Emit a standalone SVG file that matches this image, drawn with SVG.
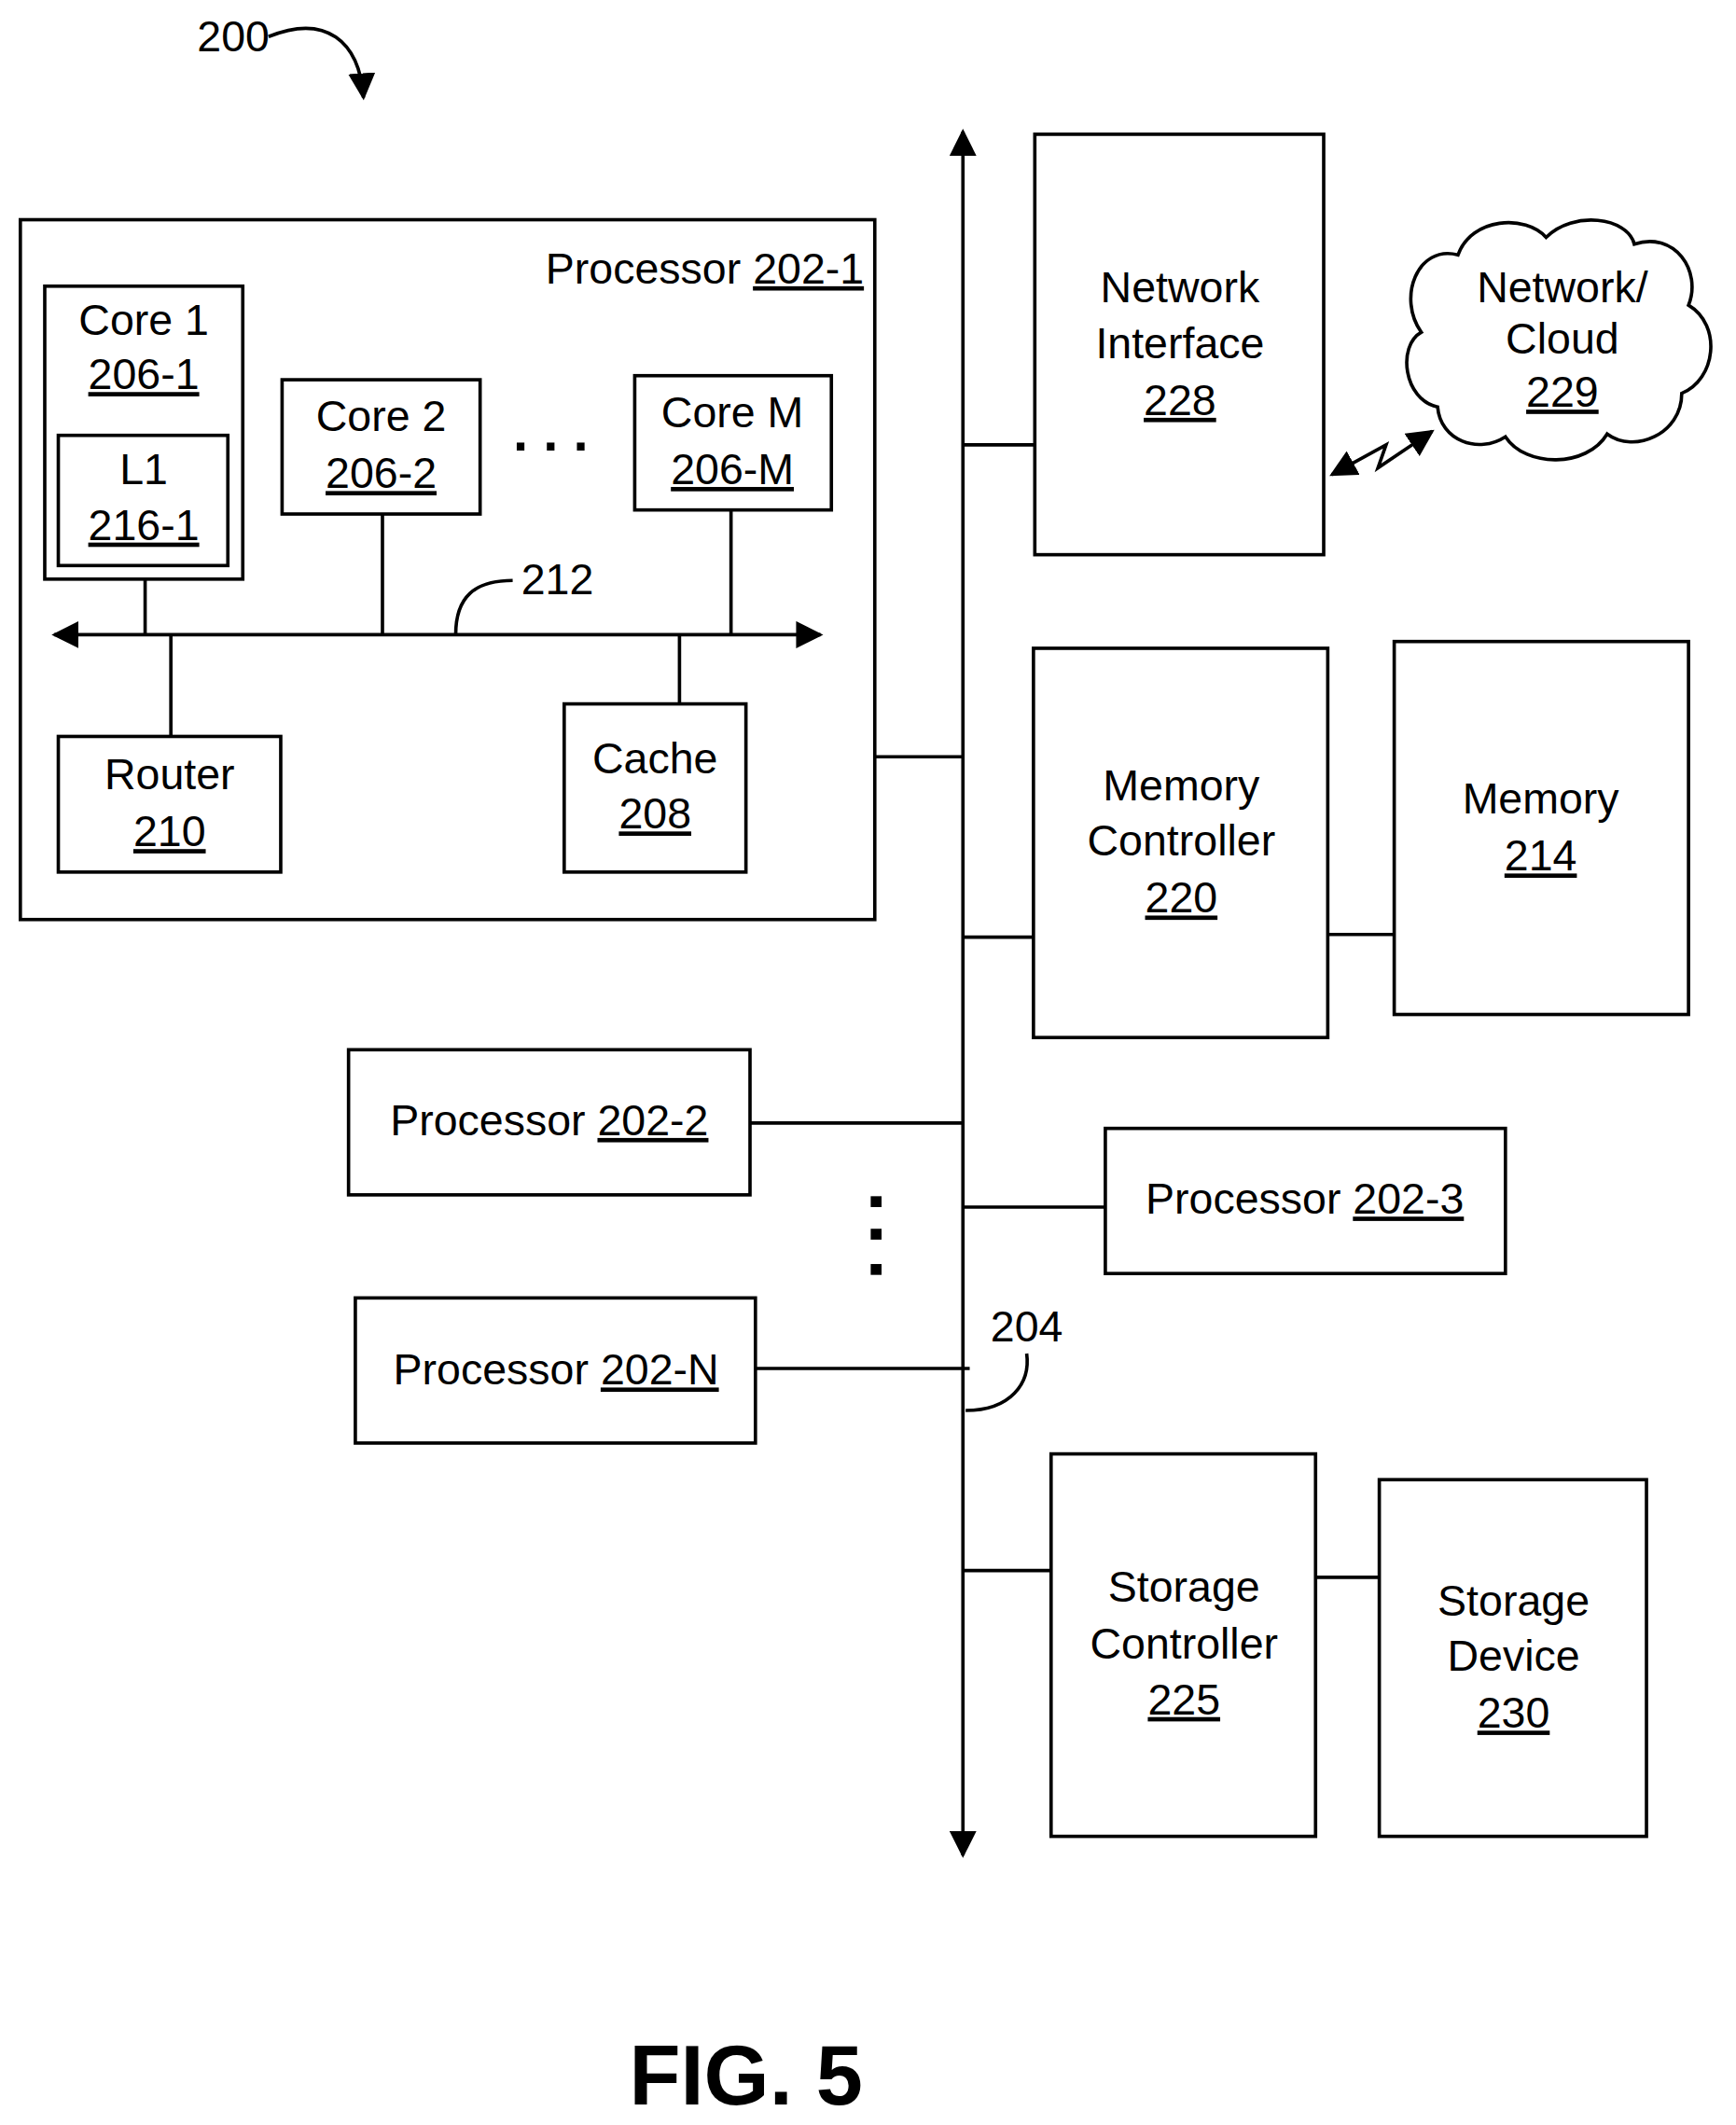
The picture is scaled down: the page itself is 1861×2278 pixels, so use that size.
<svg xmlns="http://www.w3.org/2000/svg" width="1861" height="2278" viewBox="0 0 1861 2278">
<style>
.b{fill:#fff;stroke:#000;stroke-width:2.5}
.l{fill:none;stroke:#000;stroke-width:2.5}
text{font-family:"Liberation Sans",Arial,sans-serif;font-size:32px;text-anchor:middle;fill:#000}
.u{text-decoration:underline}
</style>
<defs>
<marker id="A" viewBox="0 0 10 10" refX="9" refY="5" markerWidth="20" markerHeight="20" orient="auto-start-reverse" markerUnits="userSpaceOnUse"><path d="M0,0L10,5L0,10z"/></marker>
</defs>
<rect width="1861" height="2278" fill="#fff"/>
<g transform="scale(1.4539)">
<g id="p1"><rect class="b" x="15" y="162" width="630" height="516"/><text x="637" y="209" style="text-anchor:end">Processor <tspan class="u">202-1</tspan></text></g>
<g id="core1"><rect class="b" x="33" y="211" width="146" height="216"/><text x="106" y="247">Core 1</text><text x="106" y="287" class="u">206-1</text></g>
<g id="l1"><rect class="b" x="43" y="321" width="125" height="96"/><text x="106" y="357">L1</text><text x="106" y="398" class="u">216-1</text></g>
<g id="core2"><rect class="b" x="208" y="280" width="146" height="99"/><text x="281" y="318">Core 2</text><text x="281" y="360" class="u">206-2</text></g>
<g id="dots"><text x="406" y="332" style="font-size:40px;font-weight:bold">. . .</text></g>
<g id="coreM"><rect class="b" x="468" y="277" width="145" height="99"/><text x="540" y="315">Core M</text><text x="540" y="357" class="u">206-M</text></g>
<g id="l212"><text x="411" y="438">212</text></g>
<g id="router"><rect class="b" x="43" y="543" width="164" height="100"/><text x="125" y="582">Router</text><text x="125" y="624" class="u">210</text></g>
<g id="cache"><rect class="b" x="416" y="519" width="134" height="124"/><text x="483" y="570">Cache</text><text x="483" y="611" class="u">208</text></g>
<g id="l200"><text x="172" y="38">200</text></g>
<g id="ni"><rect class="b" x="763" y="99" width="213" height="310"/><text x="870" y="223">Network</text><text x="870" y="264">Interface</text><text x="870" y="306" class="u">228</text></g>
<g id="cloud"><path class="b" d="M1060,300 C1035,295 1030,255 1048,245 C1030,220 1045,180 1075,188 C1085,160 1125,158 1140,175 C1160,155 1200,160 1205,180 C1235,170 1255,200 1245,225 C1270,240 1265,280 1240,290 C1240,320 1205,335 1185,320 C1170,345 1125,345 1110,322 C1090,335 1062,325 1060,300 Z"/><text x="1152" y="223">Network/</text><text x="1152" y="261">Cloud</text><text x="1152" y="300" class="u">229</text></g>
<g id="mc"><rect class="b" x="762" y="478" width="217" height="287"/><text x="871" y="590">Memory</text><text x="871" y="631">Controller</text><text x="871" y="673" class="u">220</text></g>
<g id="mem"><rect class="b" x="1028" y="473" width="217" height="275"/><text x="1136" y="600">Memory</text><text x="1136" y="642" class="u">214</text></g>
<g id="p2"><rect class="b" x="257" y="774" width="296" height="107"/><text x="405" y="837">Processor <tspan class="u">202-2</tspan></text></g>
<g id="p3"><rect class="b" x="815" y="832" width="295" height="107"/><text x="962" y="895">Processor <tspan class="u">202-3</tspan></text></g>
<g id="vdots"><rect x="642" y="882" width="8" height="8"/><rect x="642" y="906" width="8" height="8"/><rect x="642" y="932" width="8" height="8"/></g>
<g id="pN"><rect class="b" x="262" y="957" width="295" height="107"/><text x="410" y="1021">Processor <tspan class="u">202-N</tspan></text></g>
<g id="l204"><text x="757" y="989">204</text></g>
<g id="sc"><rect class="b" x="775" y="1072" width="195" height="282"/><text x="873" y="1181">Storage</text><text x="873" y="1223">Controller</text><text x="873" y="1264" class="u">225</text></g>
<g id="sd"><rect class="b" x="1017" y="1091" width="197" height="263"/><text x="1116" y="1191">Storage</text><text x="1116" y="1232">Device</text><text x="1116" y="1274" class="u">230</text></g>
<g id="fig"><text x="550" y="1552" style="font-size:62px;font-weight:bold">FIG. 5</text></g>
<g id="connectors">
<path class="l" d="M198,27 C240,10 265,30 268,72" marker-end="url(#A)"/>
<path class="l" d="M710,97 V1368" marker-start="url(#A)" marker-end="url(#A)"/>
<path class="l" d="M40,468 H605" marker-start="url(#A)" marker-end="url(#A)"/>
<path class="l" d="M107,427V468M282,379V468M539,376V468M126,468V543M501,468V519"/>
<path class="l" d="M336,468 C336,440 350,428 378,428"/>
<path class="l" d="M645,558H710M710,328H763M710,691H762M979,689H1028M553,828H710M710,890H815M557,1009H715M710,1158H775M970,1163H1017"/>
<path class="l" d="M712,1040 C745,1040 760,1020 757,998"/>
<path class="l" d="M982,350 L1022,328 L1016,345 L1056,318" marker-start="url(#A)" marker-end="url(#A)"/>
</g>
</g>
</svg>
